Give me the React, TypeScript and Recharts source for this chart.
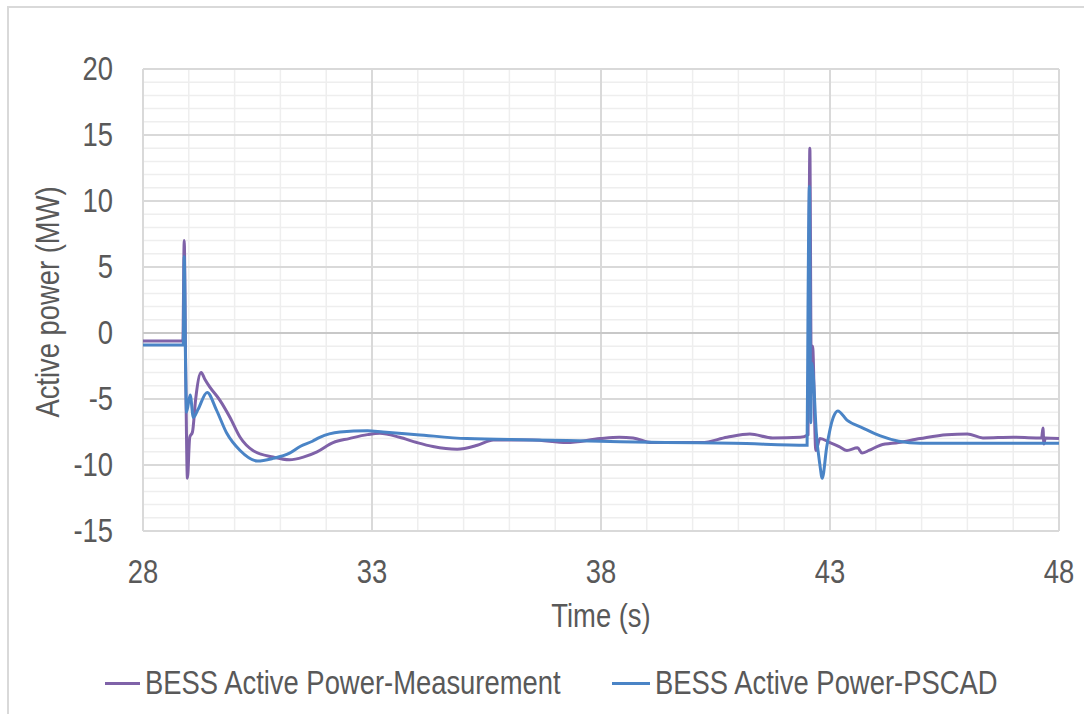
import React from 'react';
import { LineChart, Line, XAxis, YAxis, CartesianGrid, ReferenceLine, Label } from 'recharts';

// time (s) / active power (MW)
const measTime = [
    28.0, 28.87, 28.9, 28.93, 28.97, 29.02, 29.08, 29.15, 29.27, 29.35, 29.46, 29.68, 29.9, 30.12, 30.4,
    30.84, 31.2, 31.5, 31.8, 32.15, 32.5, 32.9, 33.17, 33.6, 33.98, 34.33, 34.86, 35.3, 35.65, 36.5,
    37.25, 37.98, 38.4, 38.7, 39.1, 40.2, 40.75, 41.25, 41.75, 42.35, 42.52, 42.54, 42.56, 42.59, 42.62,
    42.69, 42.78, 43.0, 43.2, 43.37, 43.6, 43.7, 43.85, 44.1, 44.5, 44.97, 45.55, 46.0, 46.34, 47.0,
    47.5, 47.62, 47.65, 47.67, 47.7, 48.0,
];
const measPower = [
    -0.6, -0.6, 7.0, -2.0, -11.0, -7.9, -7.5, -5.0, -3.0, -3.5, -4.1, -5.1, -6.4, -7.9, -8.9,
    -9.4, -9.6, -9.4, -9.0, -8.3, -8.0, -7.7, -7.6, -7.9, -8.3, -8.6, -8.8, -8.5, -8.1, -8.1,
    -8.3, -8.0, -7.9, -7.95, -8.3, -8.3, -7.9, -7.65, -7.95, -7.9, -7.7, 5.0, 14.0, -2.3, -1.0,
    -8.9, -8.0, -8.3, -8.6, -8.9, -8.7, -9.1, -8.9, -8.5, -8.3, -8.0, -7.7, -7.65, -7.95, -7.9,
    -7.95, -7.95, -7.2, -8.4, -7.95, -8.0,
];

const pscadTime = [
    28.0, 28.88, 28.9, 28.93, 28.95, 29.03, 29.1, 29.2, 29.4, 29.6, 29.83, 30.12, 30.5, 30.84, 31.2,
    31.43, 31.7, 31.86, 32.3, 32.9, 33.24, 33.98, 35.07, 36.5, 37.98, 39.4, 40.9, 42.5, 42.52, 42.55,
    42.58, 42.6, 42.63, 42.7, 42.78, 42.83, 42.93, 43.07, 43.17, 43.37, 43.72, 44.1, 44.5, 44.97, 48.0,
];
const pscadPower = [
    -0.9, -0.9, 5.8, -2.6, -6.0, -4.7, -6.4, -5.8, -4.5, -5.8, -7.6, -8.9, -9.7, -9.5, -9.1,
    -8.6, -8.2, -7.9, -7.5, -7.4, -7.5, -7.7, -8.0, -8.1, -8.2, -8.3, -8.35, -8.5, 2.0, 11.1,
    -6.8, -2.3, -3.0, -7.5, -10.0, -11.0, -8.6, -6.4, -5.9, -6.6, -7.2, -7.8, -8.2, -8.35, -8.35,
];

const xTicks = [28, 29, 30, 31, 32, 33, 34, 35, 36, 37, 38, 39, 40, 41, 42, 43, 44, 45, 46, 47, 48];
const yTicks = [-15, -14, -13, -12, -11, -10, -9, -8, -7, -6, -5, -4, -3, -2, -1, 0, 1, 2, 3, 4, 5, 6, 7, 8, 9, 10, 11, 12, 13, 14, 15, 16, 17, 18, 19, 20];
const xMajor = [28, 33, 38, 43, 48];
const yMajor = [-15, -10, -5, 5, 10, 15, 20];
const seriesNames = ['BESS Active Power-Measurement', 'BESS Active Power-PSCAD'];

const measData = measTime.map((x, i) => ({ x, y: measPower[i] }));
const pscadData = pscadTime.map((x, i) => ({ x, y: pscadPower[i] }));

const FONT = "'Liberation Sans', Arial, sans-serif";
const TEXT = '#595959';
const PURPLE = '#7F62A8';
const BLUE = '#4A84C6';
const SQUEEZE = 0.83; // the original uses a narrow face

function XTick({ x, y, payload }: any) {
    if (!xMajor.includes(payload.value)) return null;
    return (
        <text transform={`translate(${x} ${y + 46}) scale(${SQUEEZE} 1)`} textAnchor="middle" fill={TEXT} fontSize={33} fontFamily={FONT}>
            {payload.value}
        </text>
    );
}

function YTick({ x, y, payload }: any) {
    if (payload.value % 5 !== 0) return null;
    return (
        <text transform={`translate(${x} ${y + 11}) scale(${SQUEEZE} 1)`} textAnchor="end" fill={TEXT} fontSize={33} fontFamily={FONT}>
            {payload.value}
        </text>
    );
}

export default function App() {
    return (
        <div style={{ position: 'absolute', left: 0, top: 0, width: 1084, height: 714, overflow: 'hidden', background: '#fff', fontFamily: FONT }}>
            <div style={{ position: 'absolute', left: 7, top: 6, width: 1077, height: 708, borderTop: '2px solid #d9d9d9', borderLeft: '2px solid #d9d9d9', boxSizing: 'border-box' }} />
            <div style={{ position: 'absolute', left: 0, top: 0 }}>
                <LineChart width={1084} height={714} margin={{ top: 69, right: 25, left: 83, bottom: 123 }}>
                    <CartesianGrid stroke="#eeeeee" strokeWidth={1.5} />
                    <XAxis
                        dataKey="x"
                        type="number"
                        domain={[28, 48]}
                        ticks={xTicks}
                        interval={0}
                        height={60}
                        axisLine={false}
                        tickLine={false}
                        tickSize={0}
                        tickMargin={6}
                        tick={<XTick />}
                        allowDataOverflow
                    >
                        <Label
                            content={() => (
                                <text transform={`translate(601 627) scale(${SQUEEZE} 1)`} textAnchor="middle" fill={TEXT} fontSize={33} fontFamily={FONT}>
                                    Time (s)
                                </text>
                            )}
                        />
                    </XAxis>
                    <YAxis
                        type="number"
                        domain={[-15, 20]}
                        ticks={yTicks}
                        interval={0}
                        width={60}
                        axisLine={false}
                        tickLine={false}
                        tickSize={0}
                        tickMargin={30}
                        tick={<YTick />}
                        allowDataOverflow
                    >
                        <Label
                            content={() => (
                                <text transform={`translate(59 302) rotate(-90) scale(${SQUEEZE} 1)`} textAnchor="middle" fill={TEXT} fontSize={33} fontFamily={FONT}>
                                    Active power (MW)
                                </text>
                            )}
                        />
                    </YAxis>
                    {xMajor.map((v) => (
                        <ReferenceLine key={'vx' + v} x={v} stroke="#d9d9d9" strokeWidth={2} />
                    ))}
                    {yMajor.map((v) => (
                        <ReferenceLine key={'hy' + v} y={v} stroke="#d9d9d9" strokeWidth={2} />
                    ))}
                    <ReferenceLine y={0} stroke="#c8c8c8" strokeWidth={2} />
                    <Line data={measData} dataKey="y" name={seriesNames[0]} type="monotone" stroke={PURPLE} strokeWidth={3} dot={false} isAnimationActive={false} />
                    <Line data={pscadData} dataKey="y" name={seriesNames[1]} type="monotone" stroke={BLUE} strokeWidth={3} dot={false} isAnimationActive={false} />
                </LineChart>
            </div>
            <div style={{ position: 'absolute', left: 105, top: 682, width: 35, height: 3, background: PURPLE }} />
            <div style={{ position: 'absolute', left: 145, top: 664, fontSize: 33, lineHeight: '38px', color: TEXT, whiteSpace: 'nowrap', transform: `scaleX(${SQUEEZE})`, transformOrigin: 'left center' }}>
                {seriesNames[0]}
            </div>
            <div style={{ position: 'absolute', left: 612, top: 682, width: 38, height: 3, background: BLUE }} />
            <div style={{ position: 'absolute', left: 655, top: 664, fontSize: 33, lineHeight: '38px', color: TEXT, whiteSpace: 'nowrap', transform: `scaleX(${SQUEEZE})`, transformOrigin: 'left center' }}>
                {seriesNames[1]}
            </div>
        </div>
    );
}
